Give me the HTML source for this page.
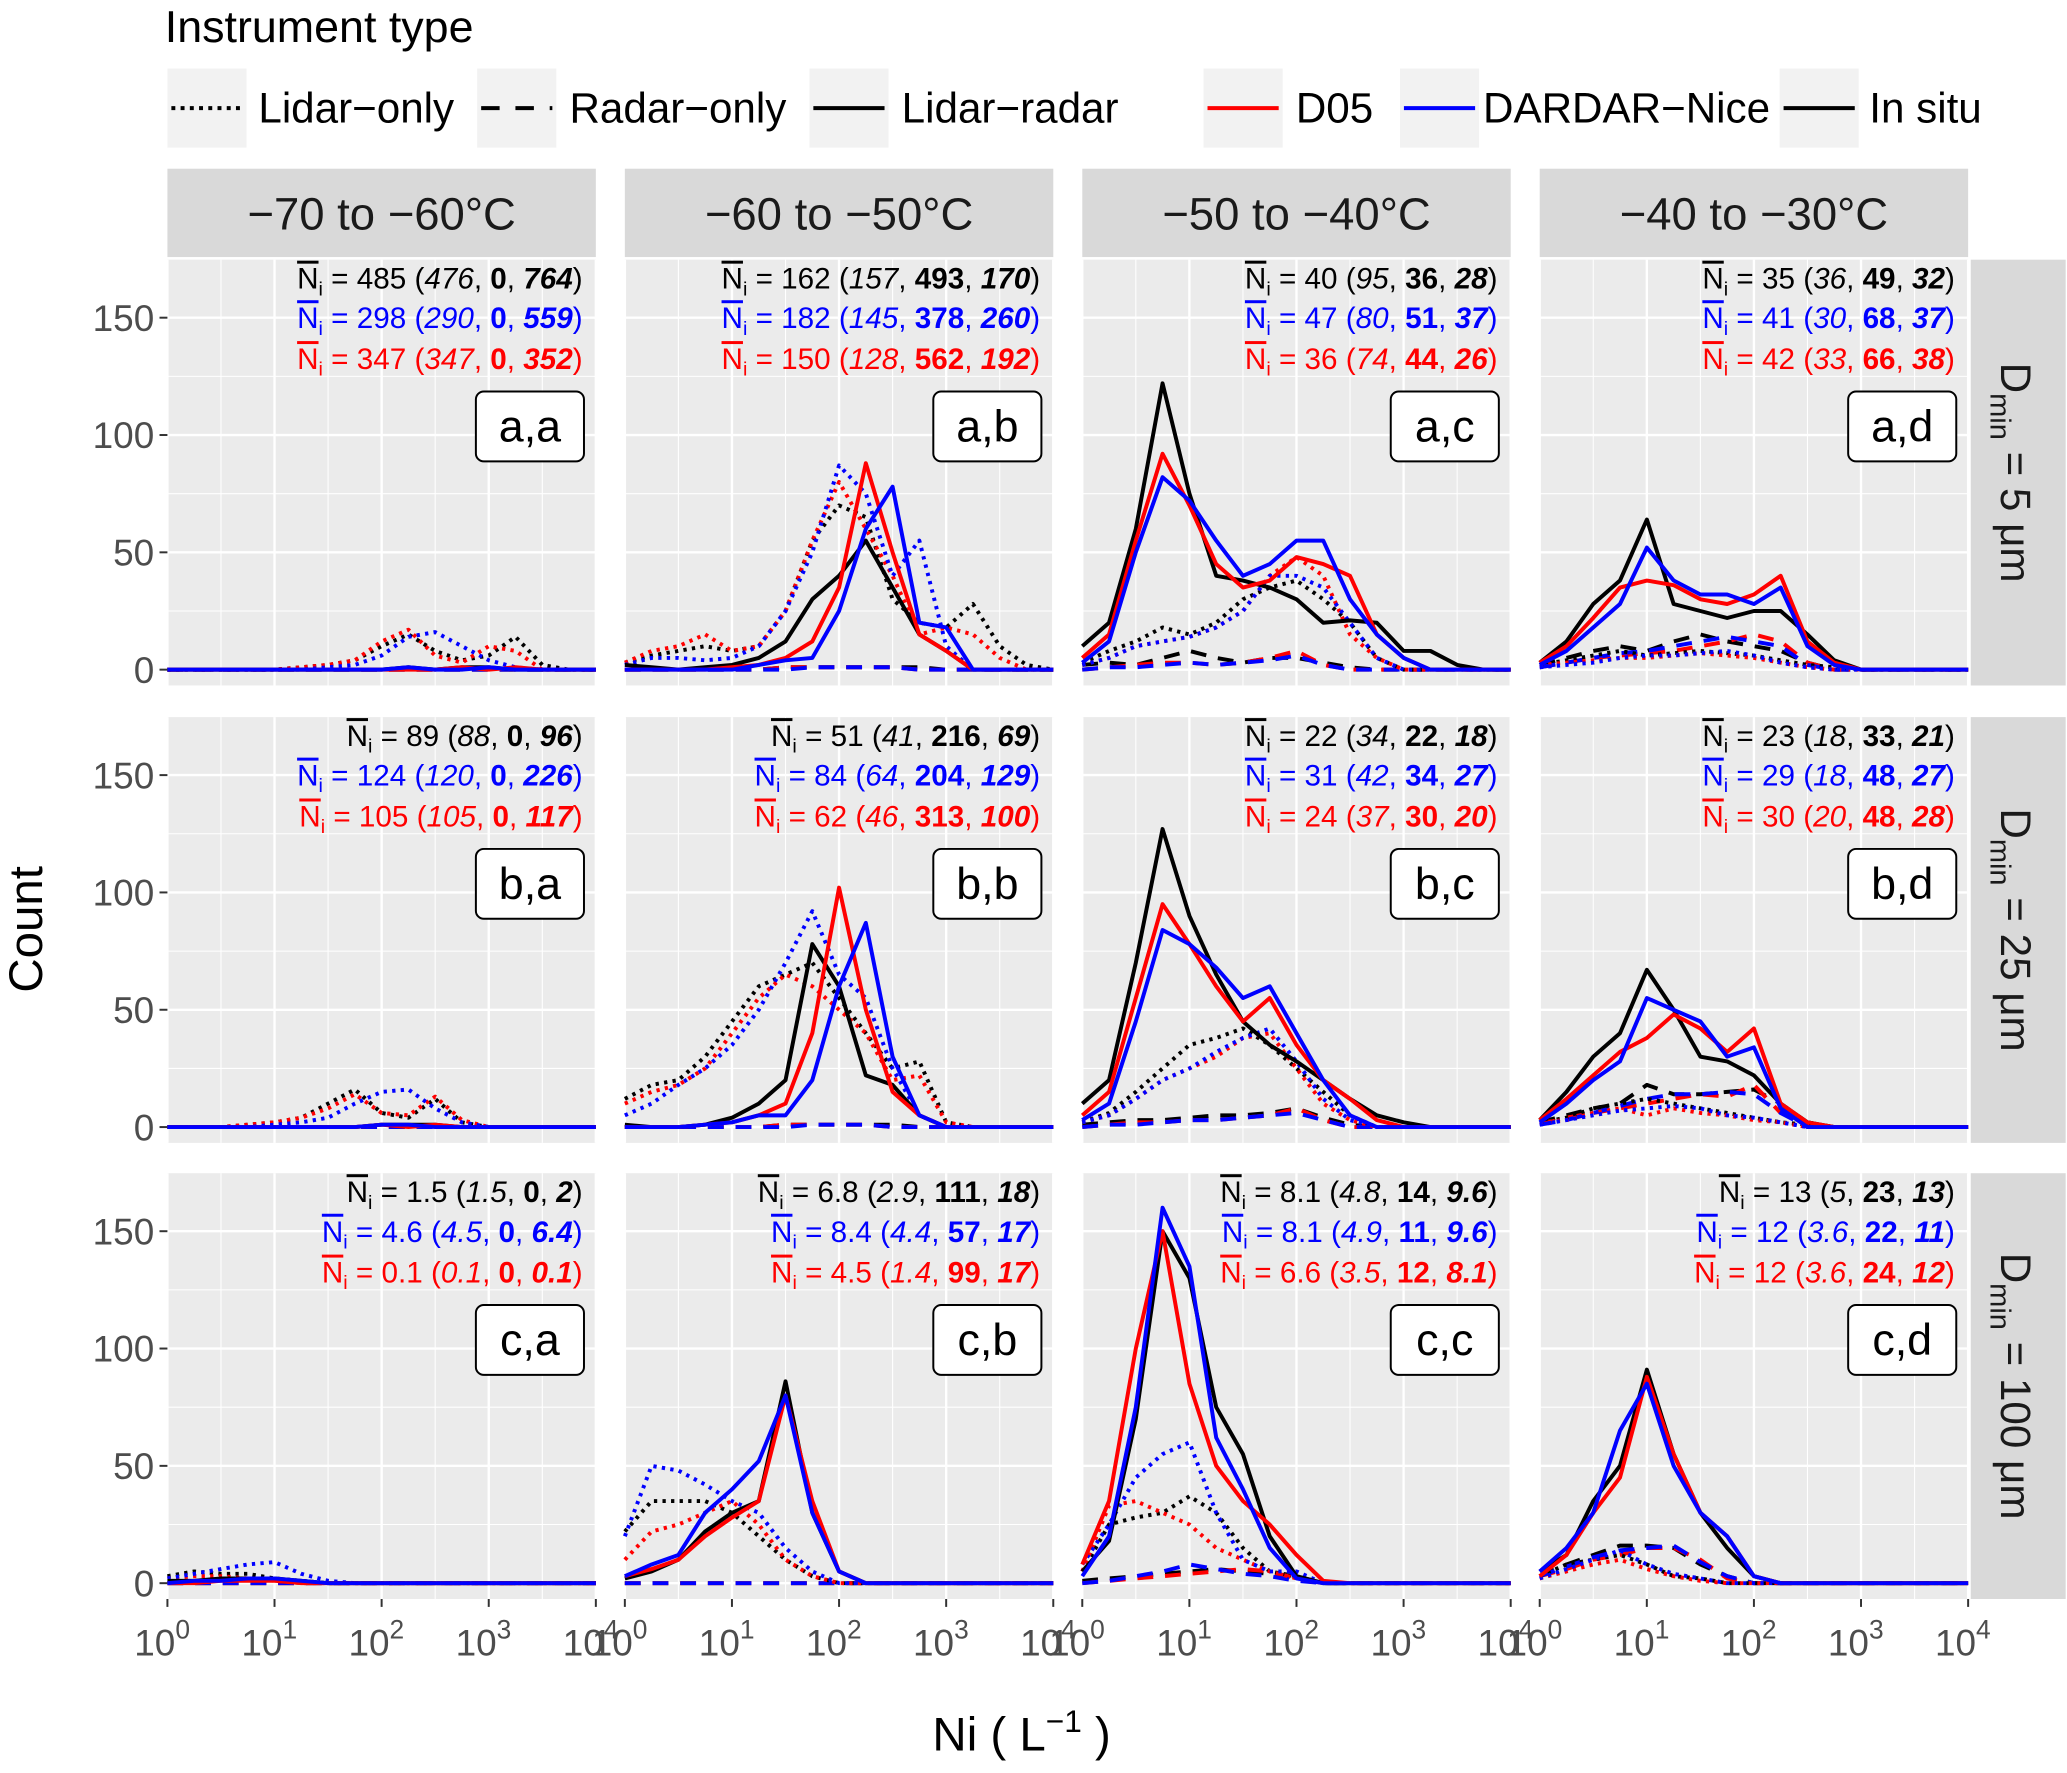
<!DOCTYPE html>
<html><head><meta charset="utf-8"><style>
html,body{margin:0;padding:0;background:#fff}
svg{display:block}
text{font-family:"Liberation Sans",Arial,sans-serif}
</style></head><body>
<svg id="chart" width="2067" height="1773" viewBox="0 0 1568 1345" preserveAspectRatio="none" xmlns="http://www.w3.org/2000/svg">
<g id="legend">
<text x="125" y="32" font-size="34" fill="#000">Instrument type</text>
</g>
<g id="panels"></g>
<text x="775" y="1328" font-size="36" text-anchor="middle">Ni ( L<tspan dy="-14" font-size="24">−1</tspan><tspan dy="14"> )</tspan></text>
<text transform="translate(32,705) rotate(-90)" font-size="36" text-anchor="middle">Count</text>
</svg>
<script>
const NS="http://www.w3.org/2000/svg";
const binLog=[0,0.25,0.5,0.75,1,1.25,1.5,1.75,2,2.25,2.5,2.75,3,3.25,3.5,3.75,4];
const yTicks=[0,50,100,150];
const xTicks=[0,1,2,3,4];
const colTitles=["−70 to −60°C","−60 to −50°C","−50 to −40°C","−40 to −30°C"];
const rowTitles=["5","25","100"];
const panelTags=[["a,a","a,b","a,c","a,d"],["b,a","b,b","b,c","b,d"],["c,a","c,b","c,c","c,d"]];
const annBlack=[["485","476","0","764"],["162","157","493","170"],["40","95","36","28"],["35","36","49","32"],
["89","88","0","96"],["51","41","216","69"],["22","34","22","18"],["23","18","33","21"],
["1.5","1.5","0","2"],["6.8","2.9","111","18"],["8.1","4.8","14","9.6"],["13","5","23","13"]];
const annBlue=[["298","290","0","559"],["182","145","378","260"],["47","80","51","37"],["41","30","68","37"],
["124","120","0","226"],["84","64","204","129"],["31","42","34","27"],["29","18","48","27"],
["4.6","4.5","0","6.4"],["8.4","4.4","57","17"],["8.1","4.9","11","9.6"],["12","3.6","22","11"]];
const annRed=[["347","347","0","352"],["150","128","562","192"],["36","74","44","26"],["42","33","66","38"],
["105","105","0","117"],["62","46","313","100"],["24","37","30","20"],["30","20","48","28"],
["0.1","0.1","0","0.1"],["4.5","1.4","99","17"],["6.6","3.5","12","8.1"],["12","3.6","24","12"]];
const aa={kDot:[0,0,0,0,0,1,2,4,10,15,8,4,6,14,2],rDot:[0,0,0,0,0,1,2,4,12,17,6,3,10,8],bDot:[0,0,0,0,0,0,1,2,6,14,16,10,4,1],
kDash:[0],rDash:[0],bDash:[0],kSol:[0,0,0,0,0,0,0,0,0,1,0,1,1,0],rSol:[0,0,0,0,0,0,0,0,0,0,0,1,0,1],bSol:[0,0,0,0,0,0,0,0,0,1,0,0,1,0]};
const ab={kDot:[3,6,8,10,8,10,25,55,70,65,30,20,18,28,10,2,0],rDot:[3,8,10,15,8,10,25,55,80,60,40,15,18,15,5],bDot:[2,5,5,4,5,10,25,50,87,75,40,55,10,0],
kDash:[0,0,0,0,0,0,1,1,1,1,1,1,0],rDash:[0,0,0,0,0,0,1,1,1,1,1,0],bDash:[0,0,0,0,0,0,0,1,1,1,1,0],
kSol:[2,1,0,1,2,5,12,30,40,55,35,15,8,0],rSol:[0,0,0,0,1,2,5,12,35,88,50,15,8,0],bSol:[0,0,0,0,0,2,4,5,25,60,78,20,18,0]};
const ac={kDot:[3,8,12,18,15,20,30,35,38,30,20,5,0],rDot:[2,5,10,12,14,18,25,40,48,40,15,5,0],bDot:[2,5,10,12,14,18,25,40,40,35,20,5,0],
kDash:[2,3,2,5,8,5,3,5,5,3,1,0],rDash:[0,1,2,3,3,2,3,5,8,2,0],bDash:[0,1,1,2,3,2,3,4,6,2,0],
kSol:[10,20,60,122,75,40,38,35,30,20,21,20,8,8,2,0,0],rSol:[5,15,55,92,70,45,35,38,48,45,40,15,5,0],bSol:[3,12,50,82,72,55,40,45,55,55,30,15,5,0]};
const ad={kDot:[2,4,6,8,6,7,8,7,6,4,2,1,0],rDot:[2,3,4,5,5,6,7,6,5,3,1,0],bDot:[1,2,3,5,6,6,7,8,6,3,1,0],
kDash:[2,5,8,10,8,12,15,12,10,8,3,0],rDash:[1,3,5,6,7,8,10,12,15,12,3,0],bDash:[1,3,5,7,8,10,12,14,12,10,2,0],
kSol:[3,12,28,38,64,28,25,22,25,25,15,4,0],rSol:[3,10,22,35,38,36,30,28,32,40,12,3,0],bSol:[2,8,18,28,52,38,32,32,28,35,10,2,0]};
const ba={kDot:[0,0,0,1,2,4,10,16,6,4,12,2,0],rDot:[0,0,0,1,2,4,8,14,6,5,13,3,0],bDot:[0,0,0,0,1,2,4,10,15,16,8,2,0],
kDash:[0],rDash:[0],bDash:[0],kSol:[0,0,0,0,0,0,0,0,1,1,1,0],rSol:[0,0,0,0,0,0,0,0,1,0,1,0],bSol:[0,0,0,0,0,0,0,0,1,1,0,0]};
const bb={kDot:[12,18,20,30,45,60,65,70,55,40,25,28,2,0],rDot:[10,15,18,25,40,55,65,60,50,40,20,22,2,0],bDot:[5,10,18,25,35,50,70,92,65,55,25,5,0],
kDash:[0,0,0,0,0,0,1,1,1,1,1,0],rDash:[0,0,0,0,0,0,1,1,1,1,0],bDash:[0,0,0,0,0,0,0,1,1,1,0],
kSol:[1,0,0,1,4,10,20,78,60,22,18,5,0],rSol:[0,0,0,1,2,5,10,40,102,50,15,5,0],bSol:[0,0,0,1,2,5,5,20,60,87,30,5,0]};
const bc={kDot:[2,6,15,25,35,38,42,35,25,15,5,0],rDot:[2,5,12,20,25,30,38,40,25,10,3,0],bDot:[2,5,12,20,25,32,38,42,28,12,3,0],
kDash:[1,2,3,3,4,5,5,6,8,4,1,0],rDash:[0,1,2,2,3,3,4,5,8,3,0],bDash:[0,1,1,2,3,3,4,5,6,3,0],
kSol:[10,20,70,127,90,65,45,35,28,20,12,5,2,0],rSol:[5,15,55,95,78,60,45,55,35,20,12,3,0],bSol:[3,10,45,84,78,68,55,60,40,20,5,0]};
const bd={kDot:[2,4,8,10,12,10,8,6,4,2,1,0],rDot:[2,3,6,8,5,8,6,5,3,2,0],bDot:[1,3,5,7,8,9,8,5,4,2,0],
kDash:[2,5,8,10,18,14,14,15,16,10,2,0],rDash:[1,4,6,8,10,12,14,13,18,6,1,0],bDash:[1,3,6,9,12,14,14,15,14,6,0],
kSol:[3,15,30,40,67,50,30,28,22,10,2,0],rSol:[3,12,22,32,38,48,42,32,42,10,2,0],bSol:[2,10,20,28,55,50,45,30,34,8,0]};
const ca={kDot:[3,5,4,4,2,1,0],rDot:[2,3,3,2,1,0],bDot:[2,4,6,8,9,4,1,0],
kDash:[0],rDash:[0],bDash:[0],kSol:[1,1,2,2,2,1,0],rSol:[0,0,1,1,1,0],bSol:[0,1,1,2,2,1,0]};
const cb={kDot:[22,35,35,35,30,20,10,3,0],rDot:[10,22,25,30,35,25,10,3,0],bDot:[20,50,48,42,35,30,15,5,0],
kDash:[0],rDash:[0],bDash:[0],
kSol:[2,5,10,22,30,35,86,30,5,0],rSol:[3,6,10,20,28,35,80,35,5,0],bSol:[3,8,12,30,40,52,80,30,5,0]};
const cc={kDot:[5,25,28,30,37,30,15,5,3,0],rDot:[5,33,35,30,25,15,10,5,2,0],bDot:[8,25,45,55,60,30,10,5,5,0],
kDash:[1,2,3,4,5,6,5,4,3,0],rDash:[0,1,2,3,4,5,6,5,2,0],bDash:[0,1,3,5,8,6,4,3,1,0],
kSol:[5,18,70,150,130,75,55,20,3,0],rSol:[8,35,100,150,85,50,35,25,12,1,0],bSol:[3,20,75,160,135,62,40,15,2,0]};
const cd={kDot:[3,8,10,12,8,3,2,0],rDot:[2,5,8,10,6,3,1,0],bDot:[2,6,10,14,8,4,2,0],
kDash:[3,8,12,16,16,15,8,3,0],rDash:[3,6,10,12,15,15,10,2,0],bDash:[3,7,11,14,15,16,9,3,0],
kSol:[5,12,35,50,91,55,30,15,3,0],rSol:[3,12,30,45,88,55,30,20,3,0],bSol:[5,15,30,65,85,50,30,20,3,0]};
const panelData=[[aa,ab,ac,ad],[ba,bb,bc,bd],[ca,cb,cc,cd]];

const colX=[127,474,821,1168], PW=325, rowTop=[197,544,890], PH=323, Y0OFF=311, YS=1.78;
const svg=document.getElementById('chart');
const panelsG=document.getElementById('panels');
function el(tag,attrs,parent){const e=document.createElementNS(NS,tag);for(const k in attrs)e.setAttribute(k,attrs[k]);(parent||svg).appendChild(e);return e;}
function xScale(c,lg){return colX[c]+lg/4*PW;}
function yScale(r,v){return rowTop[r]+Y0OFF-v*YS;}

const legG=document.getElementById('legend');
const keys=[{x:127,dash:"3,4",col:"#000",t:"Lidar−only",tx:196,n:"legend-lidar-only"},{x:362,dash:"14,12",col:"#000",t:"Radar−only",tx:432,n:"legend-radar-only"},
{x:614,dash:"",col:"#000",t:"Lidar−radar",tx:684,n:"legend-lidar-radar"},{x:913,dash:"",col:"#ff0000",t:"D05",tx:983,n:"legend-d05"},
{x:1062,dash:"",col:"#0000ff",t:"DARDAR−Nice",tx:1125,n:"legend-dardar-nice"},{x:1350,dash:"",col:"#000",t:"In situ",tx:1418,n:"legend-in-situ"}];
keys.forEach(k=>{
  const g=el('g',{},legG);
  
  
  el('rect',{x:k.x,y:52,width:60,height:60,fill:"#f2f2f2"},g);
  el('line',{x1:k.x+3,x2:k.x+57,y1:82,y2:82,stroke:k.col,"stroke-width":3,"stroke-dasharray":k.dash},g);
  const t=el('text',{x:k.tx,y:93,"font-size":32},g);t.textContent=k.t;
});

const styles={Dot:"2.5,4",Dash:"12,9",Sol:""};
const colors={k:"#000000",b:"#0000ff",r:"#ff0000"};
for(let r=0;r<3;r++)for(let c=0;c<4;c++){
  const g=el('g',{},panelsG);
  
  
  const x0=colX[c], top=rowTop[r];
  el('rect',{x:x0,y:top,width:PW,height:PH,fill:"#ebebeb"},g);
  for(let v=25;v<175;v+=50) el('line',{x1:x0,x2:x0+PW,y1:yScale(r,v),y2:yScale(r,v),stroke:"#fff","stroke-width":0.8},g);
  for(let d=0.5;d<4;d+=1) el('line',{x1:xScale(c,d),x2:xScale(c,d),y1:top,y2:top+PH,stroke:"#fff","stroke-width":0.8},g);
  yTicks.forEach(v=>el('line',{x1:x0,x2:x0+PW,y1:yScale(r,v),y2:yScale(r,v),stroke:"#fff","stroke-width":1.8},g));
  xTicks.forEach(d=>el('line',{x1:xScale(c,d),x2:xScale(c,d),y1:top,y2:top+PH,stroke:"#fff","stroke-width":1.8},g));
  const D=panelData[r][c];
  ["Dash","Dot","Sol"].forEach(st=>["k","r","b"].forEach(cl=>{
    const arr=D[cl+st];
    const pts=binLog.map((lg,i)=>xScale(c,lg).toFixed(1)+","+yScale(r,arr[i]||0).toFixed(1)).join(" ");
    const pl=el('polyline',{points:pts,fill:"none",stroke:colors[cl],"stroke-width":3,"stroke-dasharray":styles[st],"stroke-linejoin":"round"},g);
    
    
  }));
  const idx=r*4+c;
  [[annBlack,"#000",219],[annBlue,"#0000ff",249],[annRed,"#ff0000",280]].forEach(([A,col,yy])=>{
    const a=A[idx];
    const t=el('text',{x:x0+PW-10,y:top+yy-197,"font-size":22.5,fill:col,"text-anchor":"end"},g);
    
    
    t.innerHTML='<tspan text-decoration="overline">N</tspan><tspan font-size="15" dy="5">i</tspan><tspan dy="-5"> = '+a[0]+' (</tspan><tspan font-style="italic">'+a[1]+'</tspan>, <tspan font-weight="bold">'+a[2]+'</tspan>, <tspan font-weight="bold" font-style="italic">'+a[3]+'</tspan>)';
  });
  const tg=el('g',{},g);
  
  
  const tw=82;
  el('rect',{x:x0+PW-9-tw,y:top+100,width:tw,height:53,rx:6,fill:"#fff",stroke:"#000","stroke-width":1.5},tg);
  const tt=el('text',{x:x0+PW-9-tw/2,y:top+138,"font-size":34,"text-anchor":"middle"},tg);tt.textContent=panelTags[r][c];
  if(c===0) yTicks.forEach(v=>{
    el('line',{x1:x0-6,x2:x0,y1:yScale(r,v),y2:yScale(r,v),stroke:"#333","stroke-width":1.5});
    const t=el('text',{x:x0-10,y:yScale(r,v)+10,"font-size":28,fill:"#4d4d4d","text-anchor":"end"});
    
    
    t.textContent=v;
  });
  if(r===2) xTicks.forEach(d=>{
    el('line',{x1:xScale(c,d),x2:xScale(c,d),y1:top+PH,y2:top+PH+6,stroke:"#333","stroke-width":1.5});
    const t=el('text',{x:xScale(c,d)-4,y:top+PH+43,"font-size":28,fill:"#4d4d4d","text-anchor":"middle"});
    
    
    t.innerHTML='10<tspan dy="-13" font-size="20">'+d+'</tspan>';
  });
}
colTitles.forEach((s,c)=>{
  el('rect',{x:colX[c],y:128,width:PW,height:67,fill:"#d9d9d9"});
  const t=el('text',{x:colX[c]+PW/2,y:174,"font-size":34.5,fill:"#1a1a1a","text-anchor":"middle"});
  
  
  t.textContent=s;
});
rowTitles.forEach((s,r)=>{
  el('rect',{x:1495,y:rowTop[r],width:72,height:PH,fill:"#d9d9d9"});
  const t=el('text',{transform:"translate(1518,"+(rowTop[r]+PH/2)+") rotate(90)","font-size":32,fill:"#1a1a1a","text-anchor":"middle"});
  
  
  t.innerHTML='D<tspan font-size="22" dy="8">min</tspan><tspan dy="-8"> = '+s+' μm</tspan>';
});
</script>
</body></html>
